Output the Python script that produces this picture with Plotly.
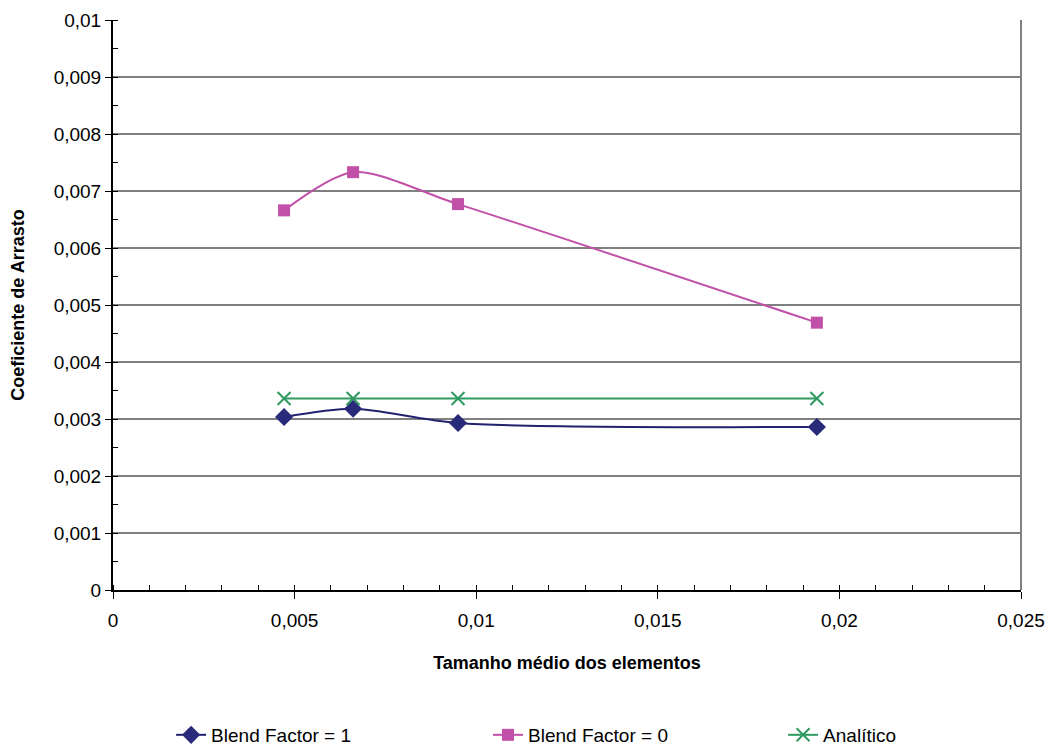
import plotly.graph_objects as go

x_vals = [0.00471, 0.00661, 0.0095, 0.01938]
blend1 = [0.003035, 0.00318, 0.00293, 0.00286]
blend0 = [0.00666, 0.00733, 0.00677, 0.00469]
analitico = [0.00336, 0.00336, 0.00336, 0.00336]

series_names = ["Blend Factor = 1", "Blend Factor = 0", "Analítico"]

fig = go.Figure()
fig.add_trace(go.Scatter(x=x_vals, y=blend1, name=series_names[0], mode="lines+markers",
                         legend="legend",
                         line=dict(color="#22226E", width=2, shape="spline", smoothing=0.8),
                         marker=dict(symbol="diamond", size=14, color="#2A2A7A")))
fig.add_trace(go.Scatter(x=x_vals, y=blend0, name=series_names[1], mode="lines+markers",
                         legend="legend2",
                         line=dict(color="#C050A8", width=2, shape="spline", smoothing=0.8),
                         marker=dict(symbol="square", size=12, color="#C050A8")))
fig.add_trace(go.Scatter(x=x_vals, y=analitico, name=series_names[2], mode="lines+markers",
                         legend="legend3",
                         line=dict(color="#2E9A60", width=2),
                         marker=dict(symbol="x-thin", size=13, color="#2E9A60",
                                     line=dict(color="#2E9A60", width=2))))

leg_common = dict(orientation="h", yref="container", y=0.032, yanchor="middle", xanchor="left",
                  font=dict(size=19), bgcolor="rgba(0,0,0,0)")

fig.update_layout(
    width=1056, height=751,
    paper_bgcolor="white", plot_bgcolor="white",
    separators=", ",
    font=dict(family="Liberation Sans, Arial", size=19, color="black"),
    margin=dict(l=105, r=43, t=12, b=169, autoexpand=False),
    showlegend=True,
    legend=dict(x=0.064, **leg_common),
    legend2=dict(x=0.413, **leg_common),
    legend3=dict(x=0.738, **leg_common),
    shapes=[dict(type="line", xref="paper", yref="paper", x0=1, x1=1, y0=0, y1=1,
                 line=dict(color="#808080", width=2))],
)
fig.update_xaxes(range=[0, 0.025], dtick=0.005, tick0=0, showgrid=False, automargin=False,
                 showline=True, linecolor="black", linewidth=2,
                 ticks="outside", ticklen=7, tickcolor="black", tickwidth=1,
                 tickfont=dict(size=19), ticklabelstandoff=5,
                 minor=dict(dtick=0.001, ticks="inside", ticklen=5, tickcolor="black", showgrid=False),
                 zeroline=False,
                 title=dict(text="<b>Tamanho médio dos elementos</b>", font=dict(size=18), standoff=27))
fig.update_yaxes(range=[0, 0.01], dtick=0.001, tick0=0, showgrid=True, automargin=False,
                 gridcolor="#808080", gridwidth=1.5,
                 showline=True, linecolor="black", linewidth=2,
                 ticks="outside", ticklen=6, tickcolor="black", tickwidth=1,
                 tickfont=dict(size=19),
                 minor=dict(dtick=0.0005, ticks="inside", ticklen=5, tickcolor="black", showgrid=False),
                 zeroline=False,
                 title=dict(text="<b>Coeficiente de Arrasto</b>", font=dict(size=18), standoff=24))

fig.write_html("out.html")
